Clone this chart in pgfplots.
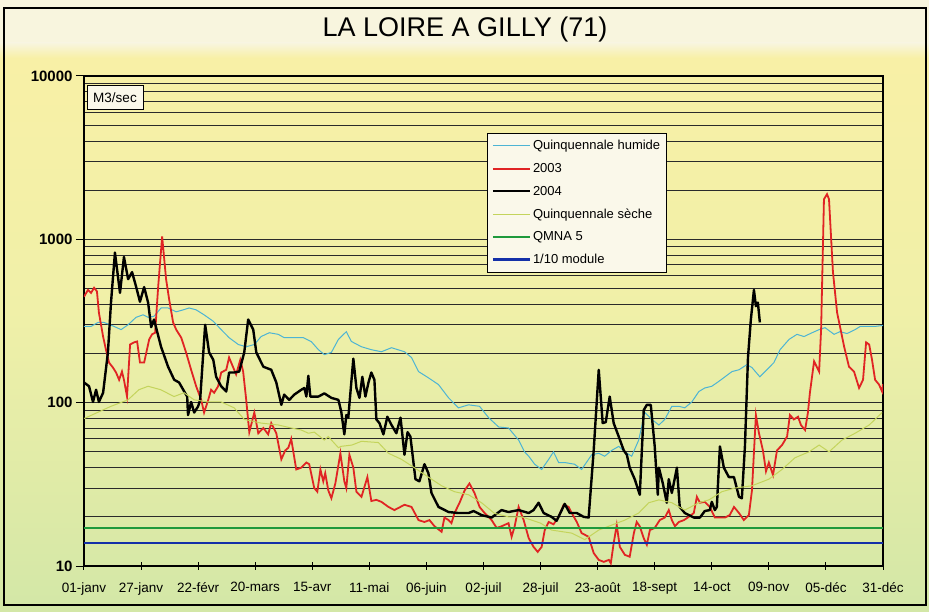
\documentclass[border=0pt]{standalone}
\usepackage{fontspec}
\setmainfont{Liberation Sans}
\usepackage{pgfplots}
\pgfplotsset{compat=1.18}
\definecolor{bgtitle}{HTML}{F8F5DE}
\definecolor{bgtop}{HTML}{F8F0A6}
\definecolor{bgmid}{HTML}{F0F0A8}
\definecolor{bgbot}{HTML}{D3E7A7}
\definecolor{legbg}{HTML}{FAF8EA}
\definecolor{humide}{HTML}{4DB4D4}
\definecolor{rouge}{HTML}{E02424}
\definecolor{seche}{HTML}{C4D45C}
\definecolor{qmna}{HTML}{1E9A3C}
\definecolor{module}{HTML}{1430A8}
\definecolor{gridc}{HTML}{2A2A2A}
\begin{document}
\begin{tikzpicture}
\useasboundingbox (0pt,0pt) rectangle (929pt,611pt);
\fill[bgtitle] (0pt,0pt) rectangle (929pt,611pt);
\shade[bottom color=bgbot, top color=bgmid] (0pt,0pt) rectangle (929pt,300.5pt);
\shade[bottom color=bgmid, top color=bgtop] (0pt,300pt) rectangle (929pt,553.5pt);
\shade[bottom color=bgtop, top color=bgtitle] (0pt,553pt) rectangle (929pt,568pt);
\begin{axis}[
  at={(84pt,45pt)}, anchor=south west,
  scale only axis, width=799pt, height=490pt,
  ymode=log, ymin=10, ymax=10000, xmin=0, xmax=364,
  xtick={0,26,52,78,104,130,156,182,208,234,260,286,312,338,364},
  xticklabels={01-janv,27-janv,22-févr,20-mars,15-avr,11-mai,06-juin,02-juil,28-juil,23-août,18-sept,14-oct,09-nov,05-déc,31-déc},
  ytick={10,100,1000,10000},
  yticklabels={\textbf{10},\textbf{100},\textbf{1000},\textbf{10000}},
  minor ytick={20,30,40,50,60,70,80,90,200,300,400,500,600,700,800,900,2000,3000,4000,5000,6000,7000,8000,9000},
  ymajorgrids, yminorgrids,
  major grid style={gridc, line width=0.9pt},
  minor grid style={gridc, line width=0.9pt},
  minor tick length=0pt,
  major tick length=8pt,
  xtick align=center, ytick align=outside,
  xtick pos=bottom, ytick pos=left,
  tick style={black, line width=1pt},
  axis line style={black, line width=1.1pt},
  xticklabel style={font=\fontsize{13.5}{15}\selectfont, yshift=-9pt},
  yticklabel style={font=\fontsize{15}{17}\selectfont},
  legend style={at={(0.5044,0.8837)}, anchor=north west, draw=black, fill=legbg,
    font=\fontsize{13}{15}\selectfont, row sep=8pt, inner xsep=4pt, inner ysep=5pt, line width=1pt},
  legend cell align=left,
  legend image code/.code={\draw[#1] (0pt,0pt) -- (37pt,0pt);},
]
\addplot[humide, line width=1pt] coordinates {
(0,293) (3.2,293) (6.4,310) (9.1,310) (13.7,293) (16.9,280) (20.1,300) (23.7,333) (26.9,345) (29.2,333)
(31.9,338) (35.1,380) (38.3,380) (42,360) (45.2,370) (47.9,380) (51.1,370) (54.7,345) (58.9,315) (62.5,280)
(66.1,250) (70.3,227) (73.9,220) (77.6,227) (80.7,254) (84.4,268) (88.5,262) (91.2,250) (95.8,250) (99.9,250)
(103.6,236) (106.8,211) (109.5,197) (112.7,203) (115.9,244) (119.5,272) (121.8,237) (126.4,220) (130.9,211) (135.5,205)
(140.1,217) (146,205) (149.2,189) (152.4,155) (156.9,142) (161.5,129) (166.1,107) (170.6,93) (175.2,97) (180.2,95)
(184.3,81) (188.9,71) (193.4,70) (198,59) (200.7,50) (202.6,47) (205.3,42) (208.5,39) (211.7,45) (213.9,50)
(216.2,43) (219,43) (223.5,42) (226.7,39) (231.3,48) (234.5,49) (237.2,47) (240.4,51) (243.6,54) (246.4,50)
(249.5,47) (252.7,59) (255.5,87) (258.7,79) (261.9,73) (264.6,79) (267.8,95) (271,95) (273.7,93) (276.9,101)
(280.1,117) (282.8,123) (286,126) (289.2,135) (292,144) (295.2,155) (298.4,159) (302,171) (304.3,164) (307.9,144)
(311.1,159) (314.3,176) (317.1,211) (321.2,244) (324.8,262) (328,254) (331.7,268) (334.9,280) (337.6,288) (341.7,262)
(344.4,272) (347.6,265) (351.3,280) (353.6,293) (357.7,293) (360.4,293) (364,297)
};
\addlegendentry{Quinquennale humide}
\addplot[rouge, line width=1.8pt] coordinates {
(0,445) (1.8,490) (3.2,470) (4.6,505) (5.9,480) (6.8,355) (8.7,254) (10,211) (11.4,176) (13.2,164)
(14.6,153) (16,138) (17.3,155) (18.2,138) (19.6,109) (21,227) (22.8,234) (24.2,237) (25.5,176) (27.4,176)
(29.7,244) (31,262) (32.4,268) (33.8,515) (35.6,1040) (37.4,570) (38.8,428) (40.6,310) (42,280) (44.3,250)
(46.5,203) (48.8,159) (51.1,126) (53.4,104) (54.7,87) (56.6,104) (57.9,120) (59.3,115) (61.1,126) (62.5,153)
(64.8,159) (66.1,189) (68,164) (69.3,149) (71.2,183) (72.5,155) (73.9,104) (75.3,66) (77.6,87) (79.4,65)
(81.7,70) (83.9,64) (85.3,75) (87.6,65) (89.9,45) (91.7,51) (93.1,53) (94.4,60) (96.7,39) (99,40)
(101.3,43) (102.6,42) (104.9,30) (106.3,28.5) (107.7,39) (109,33) (109.9,37) (111.3,29) (112.7,26) (114.5,32)
(116.8,49) (118.6,33) (119.5,30) (120.9,48) (122.7,40) (124.1,28.5) (126.4,26.5) (129.1,35) (130.9,25) (133.2,25.4)
(135.5,24.7) (138.7,23) (141.4,22) (146,23.7) (149.2,23) (152.4,19.1) (155.1,18.6) (157.4,19.1) (159.7,17.5) (162.9,16.2)
(164.2,19.8) (166.1,19.1) (167.4,18.3) (168.8,21.1) (171.1,24.4) (173.4,29) (175.6,32) (177.9,28) (180.2,23) (182.5,21.1)
(185.7,19.1) (188,17.1) (190.2,17.5) (193.4,18.3) (194.8,15.1) (196.2,17.5) (198,23) (200.3,19.1) (202.6,14.8) (204.8,13.1)
(206.7,12.2) (208.5,13.1) (209.9,16.6) (211.7,18.6) (213.9,18) (216.2,20) (218.5,23.7) (220.8,23) (222.2,21.1) (224.5,18.6)
(226.7,15.9) (229.9,15.1) (232.2,12) (234.5,10.9) (236.8,10.6) (239.1,10.9) (240,10.4) (241.3,13.8) (242.7,17.8) (244.1,13.1)
(246.4,11.7) (248.6,11.4) (250.5,15.9) (251.8,18.6) (253.2,17.5) (255,14.8) (256.4,13.5) (257.8,16.6) (260,17.1) (262.3,19.1)
(264.6,19.8) (266.4,22) (267.8,19.1) (269.2,17.5) (271,18.6) (273.3,19.1) (275.5,20) (277.8,21.1) (279.2,26.5) (280.6,24.4)
(282.8,24.7) (285.1,23) (287.4,19.8) (292,19.8) (294.2,20.5) (296.1,23) (298.4,21.1) (300.6,19.1) (302.9,20.5) (304.3,29)
(306.1,84) (307.5,65) (309.3,51) (310.7,38) (312,43) (313.9,36) (315.7,51) (318,55) (320.3,62) (321.6,84)
(323.4,79) (325.3,82) (326.6,73) (328.5,68) (329.8,87) (330.7,115) (332.6,179) (334.9,155) (335.8,280) (337.1,1760)
(338.5,1890) (339.4,1760) (341.2,630) (343.1,355) (344.4,293) (346.3,220) (348.5,166) (350.8,155) (353.1,123) (354.9,138)
(356.3,234) (357.7,227) (359,183) (360.4,138) (362.2,129) (363.6,117) (364,130)
};
\addlegendentry{2003}
\addplot[black, line width=2.4pt, line join=round] coordinates {
(0,133) (2.3,126) (4.1,101) (5.5,120) (6.8,101) (8.7,115) (10.9,203) (12.3,410) (14.1,830) (16.4,470)
(18.2,780) (20.1,570) (21.9,630) (23.7,515) (25.5,415) (27.4,510) (29.2,410) (30.6,290) (31.9,323) (35.1,220)
(38.3,166) (41.1,138) (43.3,133) (45.2,120) (47,109) (47.4,84) (48.8,101) (50.2,87) (52,95) (52.9,104)
(55.2,300) (57,203) (58.9,183) (60.2,144) (62.5,126) (64.8,117) (66.1,153) (68.4,153) (70.7,155) (73,203)
(74.8,323) (77.1,280) (78.5,203) (81.7,166) (85.3,159) (87.6,133) (89.9,97) (91.2,112) (93.5,104) (95.8,112)
(99,120) (100.4,123) (101.3,109) (102.2,146) (103.1,109) (106.8,109) (109.5,114) (112.7,107) (115.9,104) (117.2,88)
(118.6,64) (119.5,84) (120.4,81) (122.7,186) (124.1,123) (125.5,107) (126.8,144) (128.2,109) (129.6,133) (130.9,153)
(132.3,138) (133.2,79) (134.6,75) (136.4,64) (138.2,82) (140.1,73) (142.3,65) (144.2,81) (146,48) (147.4,66)
(148.7,62) (151,34) (152.8,33) (155.1,42) (156.9,37) (158.3,28) (161.5,23) (166.1,21.4) (170.6,21.1) (175.2,21.1)
(177.5,21.7) (181.1,20.5) (185.7,19.8) (190.2,22) (193.4,21.4) (198,22) (202.6,21.1) (204.8,22) (207.1,24.4) (209.4,21.1)
(213,20) (215.3,18.9) (219,24) (221.3,21.1) (224.5,21.1) (227.6,20) (229.9,19.8) (232.2,51) (234.5,159) (236.3,75)
(237.7,76) (239.5,109) (241.3,75) (243.6,62) (245.9,51) (247.3,48) (248.6,40) (250.9,34) (253.2,27.3) (255,90)
(256.4,97) (258.2,97) (260,54) (261.4,27.3) (261.9,40) (263.7,32) (265.5,24.4) (266.4,34) (267.8,28) (270.1,40)
(271.4,23) (273.7,21.1) (277.8,19.8) (280.6,19.8) (282.8,21.7) (285.1,22) (286,24.7) (287.4,22) (288.3,23) (289.7,54)
(291.5,40) (293.8,35) (296.1,35) (298.4,26.5) (299.7,26) (301.1,54) (302.5,190) (303.8,323) (305.2,490) (306.1,390)
(307,410) (307.9,310)
};
\addlegendentry{2004}
\addplot[seche, line width=1pt] coordinates {
(0,80) (1,81) (12.3,95) (20,104) (25,120) (29.2,126) (35,120) (41,109) (45.6,115) (50.2,104)
(56.6,101) (62.5,101) (68.4,93) (73,79) (80.7,75) (88.5,73) (94.4,70) (99,68) (102.2,65) (104.9,66)
(109.5,59) (111.3,62) (115.9,53) (117,54) (122,55) (126.4,58) (134.1,57) (138.7,49) (144.6,45) (150.5,40)
(156.9,35) (162.9,31) (168.8,28.5) (175.2,27.3) (181.1,24.4) (187,21) (193.4,20) (199.4,20) (203.9,19.1) (208,18.3)
(213,16.6) (222.2,15.9) (228.1,14.5) (234.5,16.6) (240.4,17.8) (246.4,19.1) (252.7,21.1) (257.3,24.4) (261.9,25.4) (267.8,24.4)
(273.7,22) (280.1,24.4) (284.7,25.4) (290.6,28.5) (296.5,30) (304.3,31) (312,34) (318,39) (323.9,46) (330.3,50)
(334.9,55) (339.4,50) (345.3,59) (351.3,65) (357.7,73) (363.6,87)
};
\addlegendentry{Quinquennale sèche}
\addplot[qmna, line width=2pt] coordinates {(0,17.2) (364,17.2)};
\addlegendentry{QMNA 5}
\addplot[module, line width=2.5pt] coordinates {(0,13.8) (364,13.8)};
\addlegendentry{1/10 module}
\end{axis}
\node[font=\fontsize{27}{30}\selectfont] at (465pt,581pt) {LA LOIRE A GILLY (71)};
\node[draw=black, line width=1pt, fill=legbg, minimum width=56pt, minimum height=24pt, inner sep=0pt, font=\fontsize{13.5}{15}\selectfont] at (115pt,513pt) {M3/sec};
\draw[black, line width=1.5pt] (4pt,6pt) rectangle (926pt,603pt);
\end{tikzpicture}
\end{document}
